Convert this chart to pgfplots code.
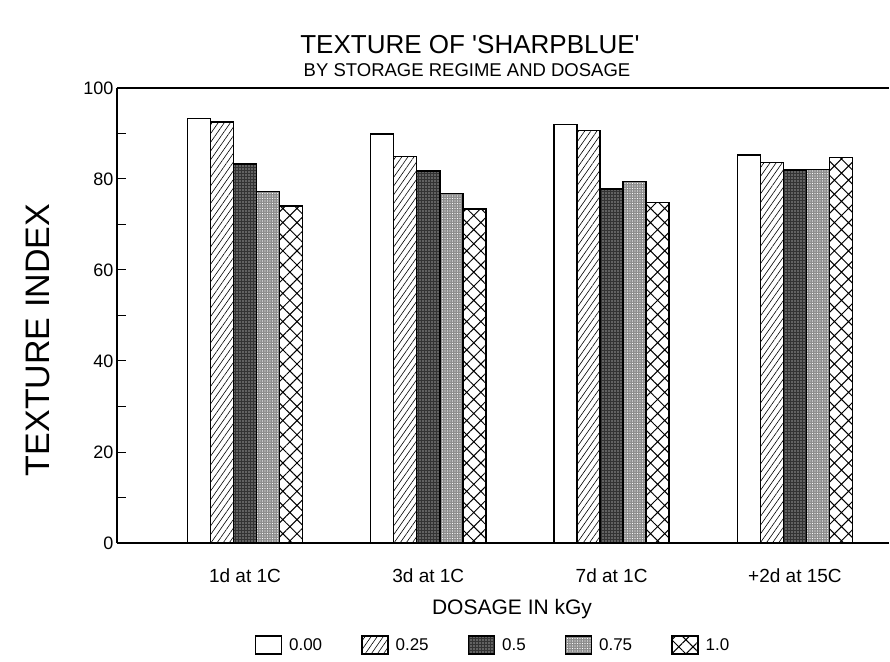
\documentclass[border=0pt]{standalone}
\usepackage{fontspec}
\setmainfont{Liberation Sans}
\usepackage{pgfplots}
\pgfplotsset{compat=1.18}
\usetikzlibrary{patterns,patterns.meta}
\begin{document}
\begin{tikzpicture}
\path[use as bounding box] (0pt,0pt) rectangle (890pt,661pt);
\begin{axis}[
  at={(117pt,118pt)}, anchor=south west,
  width=772pt, height=455pt, scale only axis,
  xmin=-0.698, xmax=3.513, ymin=0, ymax=100,
  axis x line*=box, axis y line*=left,
  axis line style={line width=1.2pt},
  xtick={0,1,2,3},
  xticklabels={1d at 1C,3d at 1C,7d at 1C,+2d at 15C},
  x tick style={draw=none},
  xticklabel style={font=\fontsize{19}{19}\selectfont, yshift=-13pt},
  ytick={0,20,...,100}, minor ytick={10,30,...,90},
  tick align=inside, major tick length=9pt, minor tick length=9pt,
  y tick style={line width=1pt, black},
  yticklabel style={font=\fontsize{18}{18}\selectfont},
  /pgf/number format/assume math mode=true,
  ybar=0pt, bar width=0.1255,
  every axis plot/.append style={draw=black, line width=1.4pt},
  legend columns=5,
  legend image code/.code={\draw[#1] (0pt,-9pt) rectangle (26pt,9pt);},
  legend style={at={(0.487,-0.224)}, anchor=center, draw=none, fill=none,
    font=\fontsize{17}{17}\selectfont,
    /tikz/every odd column/.append style={column sep=5pt},
    /tikz/every even column/.append style={column sep=37pt}},
]
\addplot[fill=white] coordinates {(0,93.3) (1,89.9) (2,92.0) (3,85.3)};
\addplot[fill=white, postaction={pattern={Lines[angle=55,distance=5pt,line width=0.6pt]}}]
  coordinates {(0,92.5) (1,85.0) (2,90.6) (3,83.6)};
\addplot[fill=black!80, postaction={pattern={Dots[distance=3pt,radius=0.55pt]}, pattern color=white}]
  coordinates {(0,83.3) (1,81.8) (2,77.8) (3,82.0)};
\addplot[fill=black!45, postaction={pattern={Dots[distance=2.5pt,radius=0.6pt]}, pattern color=white}]
  coordinates {(0,77.2) (1,76.8) (2,79.5) (3,82.1)};
\addplot[fill=white, postaction={pattern={Hatch[angle=45,distance=10pt,line width=1pt]}}]
  coordinates {(0,74.1) (1,73.4) (2,74.8) (3,84.7)};
\legend{0.00,0.25,0.5,0.75,1.0}
\end{axis}
\node[font=\fontsize{26}{26}\selectfont] at (470pt,616pt) {TEXTURE OF \textquotesingle SHARPBLUE\textquotesingle};
\node[font=\fontsize{18.5}{18.5}\selectfont] at (467pt,591pt) {BY STORAGE REGIME AND DOSAGE};
\node[font=\fontsize{21}{21}\selectfont] at (512pt,52pt) {DOSAGE IN kGy};
\node[font=\fontsize{34}{34}\selectfont, rotate=90] at (38pt,321pt) {TEXTURE INDEX};
\end{tikzpicture}
\end{document}
